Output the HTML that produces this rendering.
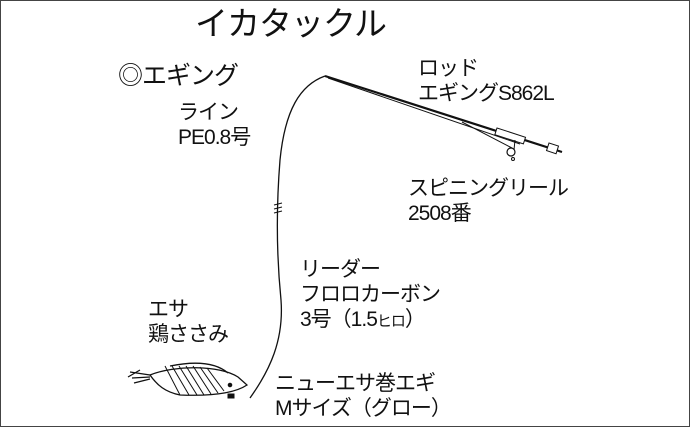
<!DOCTYPE html>
<html><head><meta charset="utf-8"><style>
body{margin:0;width:690px;height:427px;background:#fff;overflow:hidden;position:relative;font-family:"Liberation Sans","Noto Sans CJK JP",sans-serif;color:#111}
.b{position:absolute;left:0;top:0;width:688px;height:425px;border:1px solid #444}
.t{position:absolute;font-size:21px;line-height:25px;white-space:nowrap;letter-spacing:-1px}
</style></head><body>
<div class="b"></div>
<svg width="690" height="427" style="position:absolute;left:0;top:0" fill="none" stroke="#111">
<path d="M325,76 C300,85 285,110 280,160 C276,210 277,260 281,300 C284,340 270,370 250,398" stroke-width="1.3"/>
<path d="M274,205 l8,-2 M274,209 l8,-2 M274,213 l8,-2" stroke-width="1"/>
<path d="M325,76 L562,152" stroke-width="2.2"/>
<path d="M328,78 L520,144" stroke-width="1"/>
<path d="M462,122 L512,148" stroke-width="1"/>
<rect x="497" y="128" width="30" height="7" transform="rotate(18 497 128)" fill="#fff" stroke-width="1"/>
<rect x="549" y="143" width="10" height="8" transform="rotate(18 549 143)" fill="#fff" stroke-width="1"/>
<circle cx="511" cy="152" r="4" stroke-width="1.2"/>
<circle cx="513" cy="159" r="1.5"/>
<path d="M515,140 L514,150" stroke-width="1"/>
<path d="M150,375 C175,365 220,365 238,377 L247,385 C232,395 205,396 180,395 C165,392 157,385 150,375 Z" stroke-width="1.3" fill="#fff"/>
<path d="M165,366 L180,395 M172,366 L189,395 M179,366 L197,395 M186,366 L204,395 M193,366 L211,394 M200,367 L218,393 M207,368 L224,391" stroke-width="1"/>
<path d="M170,366 C195,361 215,362 228,373" stroke-width="1.3"/>
<circle cx="230" cy="385" r="1.8" fill="#111"/>
<path d="M150,375 L130,372 M150,377 L132,378 M150,379 L134,383 M140,370 L128,377" stroke-width="1.3"/>
<rect x="228" y="394" width="6" height="4" fill="#111"/>
</svg>
<div class="t" style="left:195px;top:4px;font-size:33px;line-height:40px">イカタックル</div>
<div class="t" style="left:118px;top:61px;font-size:25px;line-height:30px">◎エギング</div>
<div class="t" style="left:178px;top:100px">ライン<br>PE0.8号</div>
<div class="t" style="left:418px;top:56px">ロッド<br>エギングS862L</div>
<div class="t" style="left:408px;top:176px">スピニングリール<br>2508番</div>
<div class="t" style="left:300px;top:257px">リーダー<br>フロロカーボン<br>3号（1.5<span style="font-size:15px">ヒロ</span>）</div>
<div class="t" style="left:148px;top:297px">エサ<br>鶏ささみ</div>
<div class="t" style="left:275px;top:371px">ニューエサ巻エギ<br>Mサイズ（グロー）</div>
</body></html>
